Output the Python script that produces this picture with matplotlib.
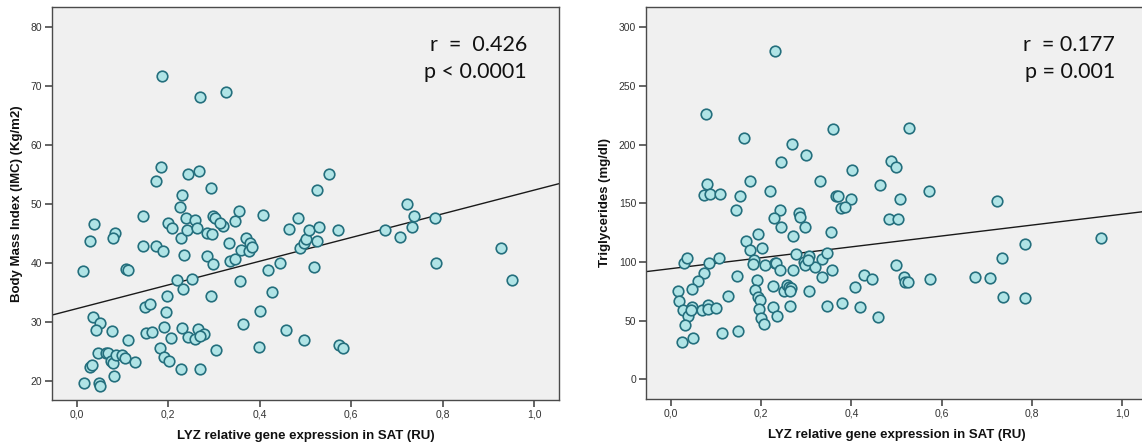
import matplotlib
matplotlib.use("Agg")
import matplotlib.pyplot as plt
import numpy as np
from matplotlib import ticker

# ---- data ------------------------------------------------------------------
# Left panel: LYZ expression vs BMI
BMI_X = [
    0.186, 0.270, 0.327, 0.185, 0.174, 0.244, 0.268, 0.294, 0.229, 0.525,
    0.551, 0.722,
    0.037, 0.028, 0.013, 0.145, 0.144, 0.084, 0.078, 0.107, 0.112, 0.174,
    0.188, 0.199, 0.208, 0.226, 0.227, 0.239, 0.241, 0.259, 0.262, 0.235,
    0.219, 0.252, 0.232, 0.196, 0.194, 0.297, 0.302, 0.285, 0.296, 0.319,
    0.312, 0.284, 0.297, 0.294, 0.332, 0.345, 0.354, 0.334, 0.345, 0.359,
    0.369, 0.379, 0.377, 0.384, 0.356, 0.363, 0.406, 0.401, 0.418, 0.427,
    0.445, 0.398, 0.457, 0.463, 0.484, 0.487, 0.497, 0.502, 0.507, 0.518,
    0.525, 0.529, 0.497, 0.570, 0.574, 0.582, 0.673, 0.707, 0.732, 0.737,
    0.784, 0.786, 0.927, 0.952,
    0.036, 0.051, 0.042, 0.077, 0.112, 0.148, 0.160, 0.151, 0.164, 0.191,
    0.205, 0.230, 0.242, 0.258, 0.264, 0.277, 0.269, 0.305, 0.182, 0.191,
    0.201, 0.227, 0.270, 0.046, 0.064, 0.069, 0.074, 0.080, 0.085, 0.098,
    0.105, 0.127, 0.081, 0.028, 0.032, 0.016, 0.048, 0.050,
]
BMI_Y = [
    71.7, 68.2, 69.0, 56.3, 53.9, 55.2, 55.6, 52.7, 51.5, 52.4,
    55.2, 50.0,
    46.6, 43.8, 38.7, 48.0, 42.9, 45.2, 44.2, 39.1, 38.9, 43.0,
    42.0, 46.9, 45.9, 49.5, 44.2, 47.6, 45.6, 47.3, 46.0, 41.4,
    37.2, 37.3, 35.6, 34.5, 31.8, 48.0, 47.7, 45.2, 44.9, 46.3,
    46.9, 41.2, 39.8, 34.4, 43.4, 47.2, 48.8, 40.4, 40.7, 42.3,
    44.2, 43.5, 42.1, 42.8, 37.0, 29.7, 48.2, 31.9, 38.8, 35.2,
    40.0, 25.8, 28.7, 45.8, 47.7, 42.5, 43.4, 44.1, 45.7, 39.4,
    43.8, 46.2, 26.9, 45.6, 26.2, 25.6, 45.6, 44.5, 46.2, 48.0,
    47.7, 40.0, 42.5, 37.1,
    30.8, 29.9, 28.7, 28.5, 27.0, 32.6, 33.0, 28.1, 28.4, 29.2,
    27.4, 29.0, 27.5, 27.2, 28.8, 28.0, 27.6, 25.3, 25.6, 24.1,
    23.5, 22.1, 22.0, 24.8, 24.8, 24.8, 23.4, 23.0, 24.5, 24.4,
    23.9, 23.3, 20.9, 22.4, 22.7, 19.7, 19.7, 19.2,
]

# Right panel: LYZ expression vs triglycerides
TG_X = [
    0.230, 0.078, 0.161, 0.359, 0.527, 0.269, 0.299, 0.244, 0.487, 0.498,
    0.401, 0.175, 0.330, 0.464, 0.080, 0.073, 0.086, 0.109, 0.153, 0.220,
    0.365, 0.370, 0.399, 0.572, 0.508, 0.723, 0.145, 0.241, 0.284, 0.286,
    0.377, 0.385, 0.228, 0.483, 0.504,
    0.243, 0.297, 0.270, 0.355, 0.166, 0.192, 0.175, 0.201, 0.185, 0.182,
    0.209, 0.231, 0.233, 0.241, 0.277, 0.271, 0.296, 0.297, 0.307, 0.320,
    0.334, 0.345, 0.335, 0.357, 0.305, 0.226, 0.250, 0.258, 0.261, 0.267,
    0.263, 0.190, 0.186, 0.194, 0.197, 0.195, 0.200, 0.206, 0.227, 0.235,
    0.265, 0.346, 0.380, 0.407, 0.419, 0.429, 0.446, 0.458, 0.498, 0.517,
    0.519, 0.525, 0.575, 0.674, 0.708, 0.733, 0.737, 0.785, 0.784, 0.954,
    0.029, 0.036, 0.085, 0.107, 0.073, 0.061, 0.047, 0.015, 0.018, 0.028,
    0.039, 0.031, 0.025, 0.050, 0.047, 0.044, 0.069, 0.082, 0.082, 0.100,
    0.127, 0.113, 0.149, 0.146, 0.303,
]
TG_Y = [
    280.1, 226.4, 205.4, 213.4, 214.2, 200.3, 191.2, 185.2, 186.4, 181.3,
    178.4, 169.3, 169.3, 165.3, 166.2, 157.4, 158.2, 158.2, 156.3, 160.5,
    156.3, 156.3, 153.4, 160.5, 153.4, 152.3, 144.3, 144.3, 141.5, 138.6,
    145.7, 147.2, 137.2, 136.4, 136.4,
    129.5, 129.5, 122.2, 125.3, 118.2, 124.1, 110.2, 112.2, 101.4, 98.6,
    97.4, 99.4, 98.9, 93.2, 106.5, 93.2, 100.3, 97.4, 105.4, 96.0,
    102.3, 108.0, 87.2, 93.2, 75.3, 79.3, 75.6, 80.1, 78.4, 77.6,
    75.0, 84.7, 76.1, 70.5, 67.6, 59.9, 52.0, 47.2, 61.4, 54.3,
    62.5, 62.8, 65.3, 79.0, 61.4, 88.9, 85.2, 53.4, 97.2, 87.0,
    83.3, 83.3, 85.2, 87.2, 86.1, 103.1, 70.2, 115.1, 69.0, 120.2,
    99.4, 103.1, 98.9, 103.1, 90.9, 83.8, 77.0, 75.3, 67.0, 59.1,
    54.0, 46.0, 31.8, 34.9, 61.9, 59.1, 59.1, 63.4, 59.9, 61.1,
    71.0, 39.2, 41.2, 88.1, 101.5,
]

# fit lines as drawn in the reference (intercept, slope)
BMI_FIT = (32.3, 20.1)
TG_FIT = (94.3, 46.4)

BMI_STATS = ["r  =  0.426", "p < 0.0001"]
TG_STATS = ["r  = 0.177", "p = 0.001"]

X_TICKS = [0.0, 0.2, 0.4, 0.6, 0.8, 1.0]
BMI_TICKS = [20, 30, 40, 50, 60, 70, 80]
TG_TICKS = [0, 50, 100, 150, 200, 250, 300]

XLABEL = "LYZ relative gene expression in SAT (RU)"
BMI_LABEL = "Body Mass Index (IMC) (Kg/m2)"
TG_LABEL = "Triglycerides (mg/dl)"

# ---- style -----------------------------------------------------------------
BG = "#f0f0f0"
FACE = "#b0e4e6"
EDGE = "#246f7d"
FRAME = "#4a4a4a"

plt.rcParams["font.family"] = ["Liberation Sans", "DejaVu Sans"]

fig = plt.figure(figsize=(11.42, 4.46), dpi=100)
fig.patch.set_facecolor("white")

ax_l = fig.add_axes([0.0453, 0.1031, 0.4445, 0.8812])
ax_r = fig.add_axes([0.5657, 0.1054, 0.4387, 0.8789])

panels = [
    (ax_l, BMI_X, BMI_Y, BMI_FIT, BMI_STATS, BMI_TICKS, (16.8, 83.45), BMI_LABEL, -0.056),
    (ax_r, TG_X, TG_Y, TG_FIT, TG_STATS, TG_TICKS, (-16.8, 317.3), TG_LABEL, -0.069),
]

for ax, xs, ys, fit, stats, yticks, ylim, ylabel, ylab_x in panels:
    ax.set_facecolor(BG)
    xlim = (-0.055, 1.055)
    ax.set_xlim(*xlim)
    ax.set_ylim(*ylim)

    # regression line
    fx = np.array(xlim)
    ax.plot(fx, fit[0] + fit[1] * fx, color="#1a1a1a", lw=1.0, zorder=2)

    ax.scatter(xs, ys, s=58, facecolor=FACE, edgecolor=EDGE,
               linewidth=1.2, zorder=3)

    ax.set_xticks(X_TICKS)
    ax.xaxis.set_major_formatter(
        ticker.FuncFormatter(lambda v, _: f"{v:.1f}".replace(".", ",")))
    ax.set_yticks(yticks)

    for sp in ax.spines.values():
        sp.set_color(FRAME)
        sp.set_linewidth(1.0)
    ax.tick_params(direction="out", length=5, width=1.2, color=FRAME,
                   labelsize=7.5, labelcolor="#333333", pad=2)

    ax.set_xlabel(XLABEL, fontsize=9.5, fontweight="bold", color="#111111")
    ax.xaxis.set_label_coords(0.5, -0.076)
    ax.set_ylabel(ylabel, fontsize=9.5, fontweight="bold", color="#111111")
    ax.yaxis.set_label_coords(ylab_x, 0.5)

    ax.text(0.936, 0.903, stats[0], transform=ax.transAxes, ha="right",
            va="center", fontsize=15.5, family="Lato", color="#111111")
    ax.text(0.936, 0.835, stats[1], transform=ax.transAxes, ha="right",
            va="center", fontsize=15.5, family="Lato", color="#111111")

fig.savefig("out.png", dpi=100, facecolor="white")
